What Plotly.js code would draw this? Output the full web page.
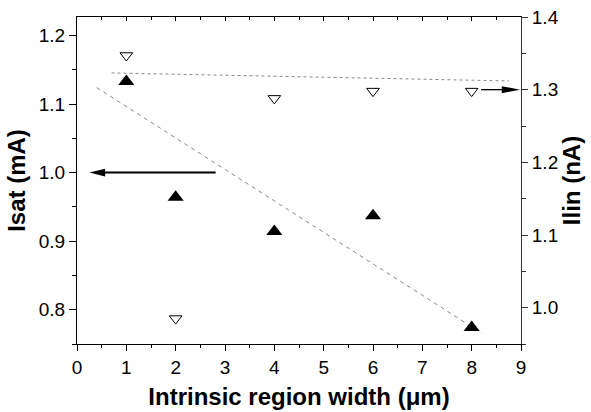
<!DOCTYPE html>
<html>
<head>
<meta charset="utf-8">
<script src="https://cdn.plot.ly/plotly-3.0.1.min.js"></script>
<style>html,body{margin:0;padding:0;background:#fff;}#chart{width:591px;height:412px;}</style>
</head>
<body>
<div id="chart"></div>
<script>
// Data
const widths = [1, 2, 4, 6, 8];
const isat = [1.133, 0.964, 0.914, 0.937, 0.774];   // mA, left axis
const ilin = [1.347, 0.985, 1.288, 1.298, 1.298];   // nA, right axis
const isatFitX = [0.4, 8.2];
const isatFitY = [1.124, 0.766];
const ilinFitX = [0.7, 8.75];
const ilinFitY = [1.323, 1.312];
// arrows: [tailX, headX, y]
const isatArrow = [2.81, 0.25, 1.0];
const ilinArrow = [8.19, 8.98, 1.3];

const FONT = 'Liberation Sans, Arial, sans-serif';

const traces = [
  {x: isatFitX, y: isatFitY, mode: 'lines', yaxis: 'y', line: {color: '#8a8a8a', width: 1, dash: '4px,4px'}, hoverinfo: 'skip'},
  {x: ilinFitX, y: ilinFitY, mode: 'lines', yaxis: 'y2', line: {color: '#8a8a8a', width: 1, dash: 'dot'}, hoverinfo: 'skip'},
  {x: widths, y: isat, mode: 'markers', yaxis: 'y', marker: {symbol: 'triangle-up', size: 14, color: '#000'}},
  {x: widths, y: ilin, mode: 'markers', yaxis: 'y2', marker: {symbol: 'triangle-down-open', size: 11, color: '#000', line: {width: 1, color: '#000'}}}
];

function headPath(tip, dir, y, lenUnits, halfH) {
  const back = tip - dir * lenUnits;
  return `M ${tip},${y} L ${back},${y + halfH} L ${back},${y - halfH} Z`;
}
const shapes = [
  {type: 'line', xref: 'x', yref: 'y', x0: isatArrow[0], x1: isatArrow[1] + 0.3, y0: isatArrow[2], y1: isatArrow[2], line: {color: '#000', width: 2}},
  {type: 'path', xref: 'x', yref: 'y', path: headPath(isatArrow[1], -1, isatArrow[2], 0.32, 0.0058), fillcolor: '#000', line: {width: 0}},
  {type: 'line', xref: 'x', yref: 'y2', x0: ilinArrow[0], x1: ilinArrow[1] - 0.3, y0: ilinArrow[2], y1: ilinArrow[2], line: {color: '#000', width: 1.3}},
  {type: 'path', xref: 'x', yref: 'y2', path: headPath(ilinArrow[1], 1, ilinArrow[2], 0.37, 0.0048), fillcolor: '#000', line: {width: 0}}
];

const tickFont = {family: FONT, size: 19, color: '#000'};
const titleFont = {family: FONT, size: 24, color: '#000', weight: 'bold'};

const layout = {
  width: 591, height: 412,
  margin: {l: 77, r: 70, t: 17, b: 68},
  paper_bgcolor: '#fff', plot_bgcolor: '#fff',
  showlegend: false,
  xaxis: {
    range: [0, 9], dtick: 1, tick0: 0, ticks: 'outside', ticklen: 6, tickwidth: 1, tickcolor: '#000',
    minor: {dtick: 0.5, ticks: 'outside', ticklen: 3, tickcolor: '#000'},
    showline: true, linecolor: '#000', linewidth: 1, showgrid: false, zeroline: false,
    tickfont: tickFont,
    title: {text: 'Intrinsic region width (μm)', font: titleFont, standoff: 11}
  },
  xaxis2: {
    overlaying: 'x', side: 'top', range: [0, 9], dtick: 1, ticks: 'inside', ticklen: 4, tickcolor: '#000',
    minor: {dtick: 0.5, ticks: 'inside', ticklen: 3, tickcolor: '#000'},
    showline: true, linecolor: '#000', linewidth: 1, showgrid: false, zeroline: false, showticklabels: false
  },
  yaxis: {
    range: [0.75, 1.227], dtick: 0.1, tick0: 0.8, tickformat: '.1f', ticks: 'outside', ticklen: 7, tickcolor: '#000',
    minor: {dtick: 0.05, ticks: 'outside', ticklen: 4, tickcolor: '#000'},
    showline: true, linecolor: '#000', linewidth: 1, showgrid: false, zeroline: false,
    tickfont: tickFont,
    title: {text: 'Isat (mA)', font: titleFont, standoff: 6}
  },
  yaxis2: {
    overlaying: 'y', side: 'right', range: [0.95, 1.4], dtick: 0.1, tick0: 1.0, tickformat: '.1f', ticks: 'outside', ticklen: 6, tickcolor: '#333',
    minor: {dtick: 0.05, ticks: 'outside', ticklen: 4, tickcolor: '#333'},
    showline: true, linecolor: '#333', linewidth: 1, showgrid: false, zeroline: false,
    tickfont: tickFont,
    title: {text: 'Ilin (nA)', font: titleFont, standoff: 5}
  },
  shapes: shapes
};

traces.push({x: [0], y: [1], xaxis: 'x2', yaxis: 'y', mode: 'markers', marker: {opacity: 0}, hoverinfo: 'skip'});

Plotly.newPlot('chart', traces, layout, {displayModeBar: false, staticPlot: true});
</script>
</body>
</html>
